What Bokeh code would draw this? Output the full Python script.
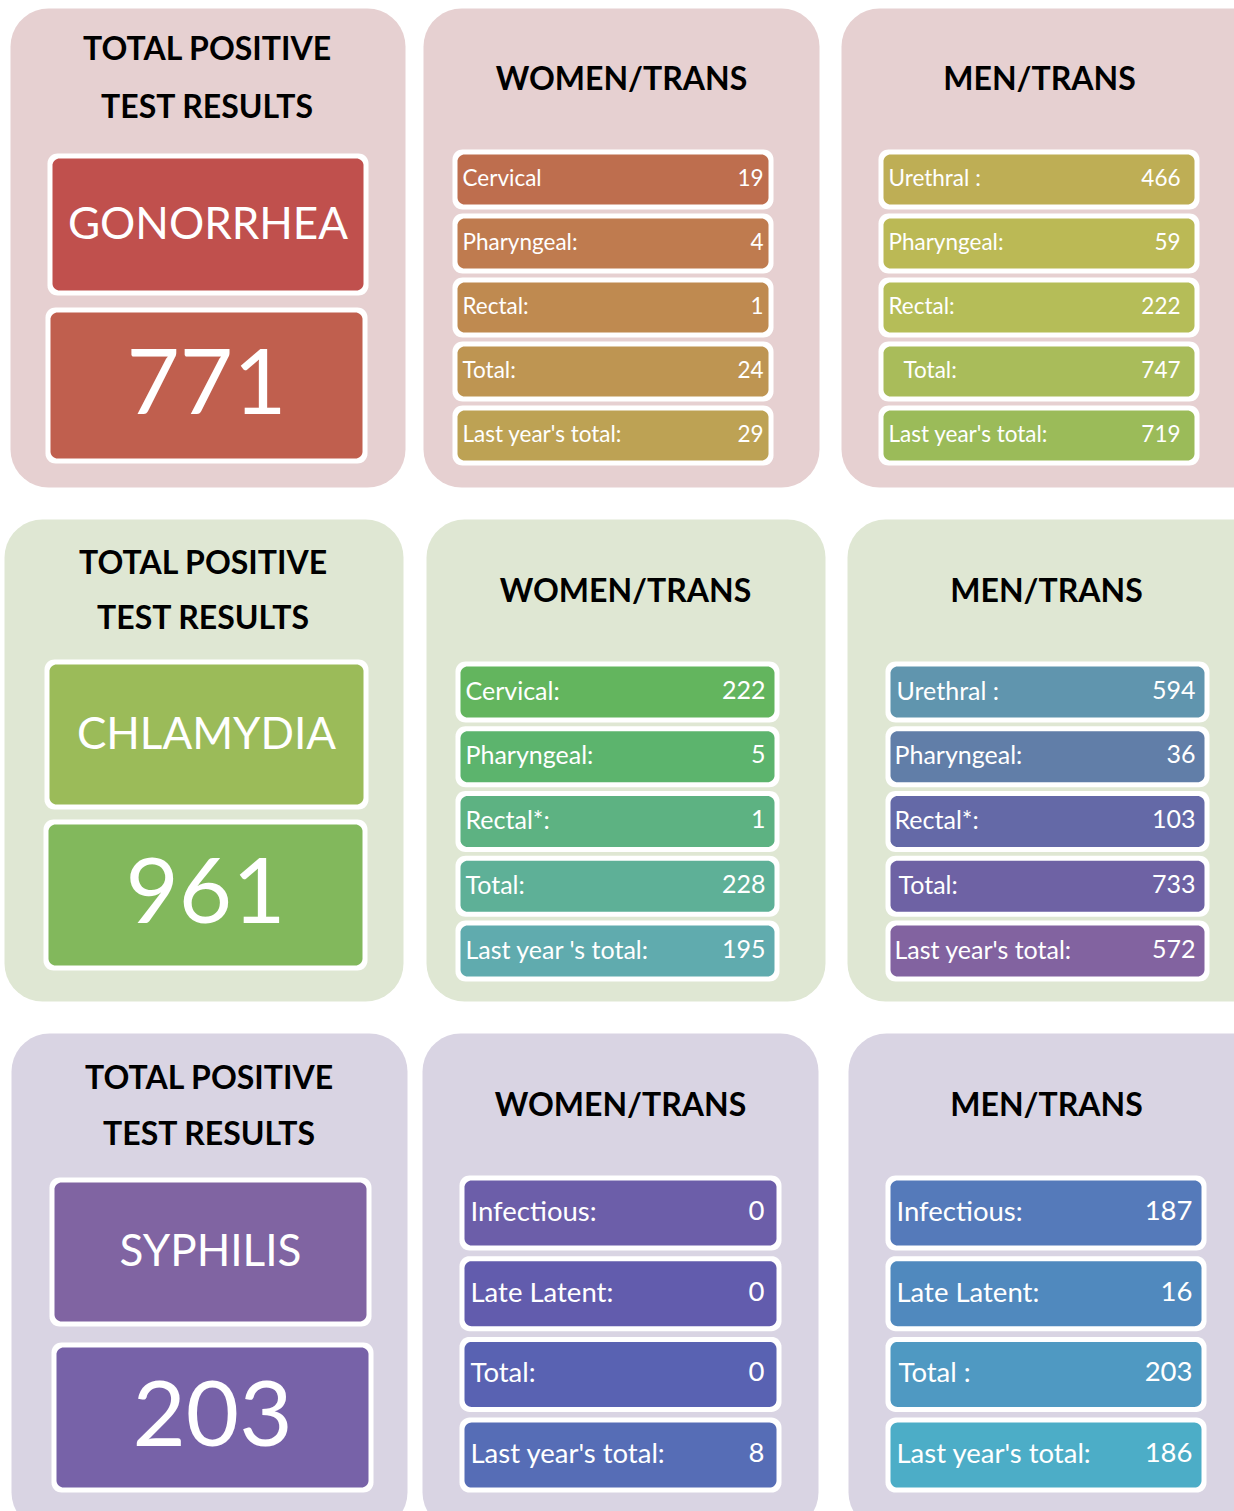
import numpy as np
from bokeh.plotting import figure
from bokeh.models import Range1d, ColumnDataSource
from bokeh.core.properties import value
from bokeh.embed import file_html
from bokeh.resources import INLINE

# ---------------- data ----------------
diseases = ["GONORRHEA", "CHLAMYDIA", "SYPHILIS"]
disease_totals = [771, 961, 203]
summary_title = ["TOTAL POSITIVE", "TEST RESULTS"]
group_titles = ["WOMEN/TRANS", "MEN/TRANS"]

gon_women_labels = ["Cervical", "Pharyngeal:", "Rectal:", "Total:", "Last year's total:"]
gon_women_values = [19, 4, 1, 24, 29]
gon_men_labels = ["Urethral :", "Pharyngeal:", "Rectal:", "Total:", "Last year's total:"]
gon_men_values = [466, 59, 222, 747, 719]

chl_women_labels = ["Cervical:", "Pharyngeal:", "Rectal*:", "Total:", "Last year 's total:"]
chl_women_values = [222, 5, 1, 228, 195]
chl_men_labels = ["Urethral :", "Pharyngeal:", "Rectal*:", "Total:", "Last year's total:"]
chl_men_values = [594, 36, 103, 733, 572]

syp_women_labels = ["Infectious:", "Late Latent:", "Total:", "Last year's total:"]
syp_women_values = [0, 0, 0, 8]
syp_men_labels = ["Infectious:", "Late Latent:", "Total :", "Last year's total:"]
syp_men_values = [187, 16, 203, 186]

# ---------------- styles ----------------
panel_bg = ["#E6D0D1", "#DFE7D3", "#D9D4E3"]
name_colors = ["#C0504D", "#9BBB59", "#8064A2"]
total_colors = ["#C05F4E", "#82B85C", "#7762A8"]
women_colors = [
    ["#BE6E4E", "#BF7B4F", "#BF8A50", "#BE9552", "#BDA254"],
    ["#63B55E", "#5CB46D", "#5DB282", "#5EB097", "#60ABAE"],
    ["#6C5EA9", "#625CAD", "#5962B2", "#566DB6"],
]
men_colors = [
    ["#BEAE55", "#BBB955", "#B5BD58", "#A9BC5A", "#9BBB59"],
    ["#6095AE", "#617EA8", "#6469A7", "#6E62A4", "#8263A0"],
    ["#557ABA", "#5089BE", "#4F99C2", "#4CADC7"],
]

FONT = value("Lato")

# ---------------- layout (page pixels) ----------------
rows = [
    dict(top=8, bottom=487, panels=[(10, 405), (423, 819), (841, 1280)],
         t1=(207, 47, 105), gtitle_y=77, gcx=(621, 1039),
         name_box=(47, 153, 368, 295), num_box=(45, 307, 367, 463),
         wx=(452, 773), mx=(878, 1199), rtop=149, pitch=64, rh=60,
         wlab=462, mlab=888, wval=763, mval=1180, fs=22.5,
         mindent=[0, 0, 0, 15, 0]),
    dict(top=519, bottom=1001, panels=[(4, 403), (426, 825), (847, 1280)],
         t1=(203, 561, 616), gtitle_y=589, gcx=(625, 1046),
         name_box=(44, 659, 368, 809), num_box=(43, 819, 367, 970),
         wx=(455, 779), mx=(885, 1209), rtop=661, pitch=64.75, rh=61,
         wlab=465, mlab=894, wval=765, mval=1195, fs=25,
         mindent=[2, 0, 0, 4, 0]),
    dict(top=1033, bottom=1530, panels=[(11, 407), (422, 818), (848, 1280)],
         t1=(209, 1076, 1132), gtitle_y=1103, gcx=(620, 1046),
         name_box=(49, 1177, 371, 1326), num_box=(51, 1342, 373, 1492),
         wx=(459, 781), mx=(885, 1206), rtop=1175, pitch=80.7, rh=75,
         wlab=470, mlab=896, wval=764, mval=1192, fs=27.5,
         mindent=[0, 0, 2, 0, 0]),
]
NAME_FS = 44
NUM_FS = 92
TITLE_FS = 32
ROW_TEXT_SHIFT = -2.5
NUM_TEXT_SHIFT = -4.5
NAME_TEXT_SHIFT = -3

women_labels = [gon_women_labels, chl_women_labels, syp_women_labels]
women_values = [gon_women_values, chl_women_values, syp_women_values]
men_labels = [gon_men_labels, chl_men_labels, syp_men_labels]
men_values = [gon_men_values, chl_men_values, syp_men_values]


def rrect(x0, y0, x1, y1, r, n=10):
    xs, ys = [], []
    corners = [(x1 - r, y0 + r, -90, 0), (x1 - r, y1 - r, 0, 90),
               (x0 + r, y1 - r, 90, 180), (x0 + r, y0 + r, 180, 270)]
    for cx, cy, a0, a1 in corners:
        for t in np.linspace(np.radians(a0), np.radians(a1), n):
            xs.append(cx + r * np.cos(t))
            ys.append(cy + r * np.sin(t))
    return xs, ys


W, H = 1234, 1511
p = figure(width=W, height=H, x_range=Range1d(0, W), y_range=Range1d(H, 0),
           output_backend="svg", toolbar_location=None, x_axis_type=None, y_axis_type=None,
           min_border=0, background_fill_color="white", border_fill_color="white")
p.grid.visible = False
p.outline_line_color = None

bg = dict(xs=[], ys=[], c=[])
white = dict(xs=[], ys=[])
boxes = dict(xs=[], ys=[], c=[])
txt = dict(x=[], y=[], t=[], fs=[], align=[], style=[], col=[])


def add_text(x, y, t, fs, align="center", style="normal", col="white"):
    txt["x"].append(x); txt["y"].append(y); txt["t"].append(str(t))
    txt["fs"].append(f"{fs}px"); txt["align"].append(align)
    txt["style"].append(style); txt["col"].append(col)


def add_box(x0, y0, x1, y1, color, border=5, r=10):
    xs, ys = rrect(x0, y0, x1, y1, r)
    white["xs"].append(xs); white["ys"].append(ys)
    xs, ys = rrect(x0 + border, y0 + border, x1 - border, y1 - border, r - 3)
    boxes["xs"].append(xs); boxes["ys"].append(ys); boxes["c"].append(color)


for i, L in enumerate(rows):
    for (a, b) in L["panels"]:
        xs, ys = rrect(a, L["top"], b, L["bottom"], 38)
        bg["xs"].append(xs); bg["ys"].append(ys); bg["c"].append(panel_bg[i])
    cx, y1, y2 = L["t1"]
    add_text(cx, y1, summary_title[0], TITLE_FS, style="bold", col="black")
    add_text(cx, y2, summary_title[1], TITLE_FS, style="bold", col="black")
    for k in range(2):
        add_text(L["gcx"][k], L["gtitle_y"], group_titles[k], TITLE_FS, style="bold", col="black")
    nb = L["name_box"]
    add_box(*nb, name_colors[i])
    add_text((nb[0] + nb[2]) / 2, (nb[1] + nb[3]) / 2 + NAME_TEXT_SHIFT, diseases[i], NAME_FS)
    tb = L["num_box"]
    add_box(*tb, total_colors[i])
    add_text((tb[0] + tb[2]) / 2, (tb[1] + tb[3]) / 2 + NUM_TEXT_SHIFT, disease_totals[i], NUM_FS)
    for j, (lab, v) in enumerate(zip(women_labels[i], women_values[i])):
        y0 = L["rtop"] + j * L["pitch"]
        add_box(L["wx"][0], y0, L["wx"][1], y0 + L["rh"], women_colors[i][j])
        yc = y0 + L["rh"] / 2 + ROW_TEXT_SHIFT
        add_text(L["wlab"], yc, lab, L["fs"], align="left")
        add_text(L["wval"], yc, v, L["fs"], align="right")
    for j, (lab, v) in enumerate(zip(men_labels[i], men_values[i])):
        y0 = L["rtop"] + j * L["pitch"]
        add_box(L["mx"][0], y0, L["mx"][1], y0 + L["rh"], men_colors[i][j])
        yc = y0 + L["rh"] / 2 + ROW_TEXT_SHIFT
        add_text(L["mlab"] + L["mindent"][j], yc, lab, L["fs"], align="left")
        add_text(L["mval"], yc, v, L["fs"], align="right")

p.patches("xs", "ys", fill_color="c", line_color=None, source=ColumnDataSource(bg))
p.patches("xs", "ys", fill_color="white", line_color=None, source=ColumnDataSource(white))
p.patches("xs", "ys", fill_color="c", line_color=None, source=ColumnDataSource(boxes))
p.text("x", "y", text="t", text_font=FONT, text_font_size="fs", text_align="align",
       text_baseline="middle", text_font_style="style", text_color="col",
       source=ColumnDataSource(txt))

open("out.html", "w").write(file_html(p, INLINE))
